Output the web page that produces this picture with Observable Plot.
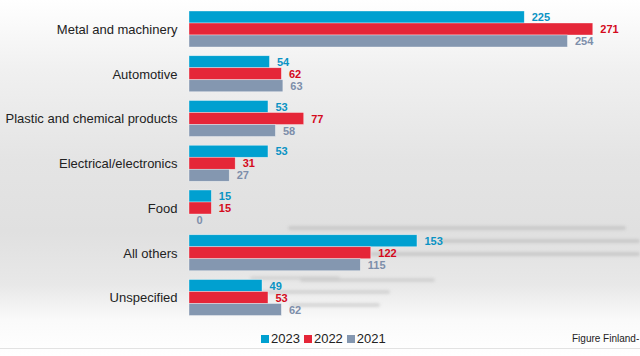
<!DOCTYPE html>
<html>
<head>
<meta charset="utf-8">
<script src="https://cdn.jsdelivr.net/npm/d3@7"></script>
<script src="https://cdn.jsdelivr.net/npm/@observablehq/plot@0.6"></script>
<style>
  html, body { margin: 0; padding: 0; }
  body {
    width: 640px; height: 356px; overflow: hidden; position: relative;
    font-family: "Liberation Sans", Arial, sans-serif;
    background: linear-gradient(to bottom, #ffffff 0%, #f0f0f0 20%, #e4e4e4 45%, #e0e0e0 65%, #e8e8e8 80%, #fafafa 90%, #ffffff 100%);
  }
  #chart { position: relative; z-index: 2; }
  #chart svg { display: block; }
  #chart svg g[aria-label^="fy-axis"] text, #chart svg g[aria-label^="fy-axis"] { font-size: 13px !important; fill: #222; }
  .deco { position: absolute; height: 4px; background: #c4c4c4; filter: blur(1.5px); border-radius: 2px; z-index: 1; opacity: 0.8; }
  #legend {
    position: absolute; top: 331px; left: 0; width: 640px; height: 18px;
    font-size: 13px; color: #222;
  }
  #legend .items { position: absolute; left: 261px; top: 0; white-space: nowrap; }
  #legend .item { display: inline-block; margin-right: 4px; }
  #legend .sw { display: inline-block; width: 8px; height: 8px; margin-right: 2px; vertical-align: 0px; }
  #caption { position: absolute; left: 572px; top: 2px; font-size: 10px; color: #222; white-space: nowrap; }
  #rule { position: absolute; top: 348px; left: 0; width: 640px; height: 1px; background: #e2e2e2; }
</style>
</head>
<body>
<div class="deco" style="top:226px;left:288px;width:338px"></div>
<div class="deco" style="top:239px;left:440px;width:200px"></div>
<div class="deco" style="top:252px;left:370px;width:270px"></div>
<div class="deco" style="top:276px;left:250px;width:90px;opacity:0.5"></div>
<div class="deco" style="top:278px;left:300px;width:135px;opacity:0.6"></div>
<div class="deco" style="top:290px;left:260px;width:130px;opacity:0.6"></div>
<div class="deco" style="top:303px;left:290px;width:90px;opacity:0.6"></div>
<div id="chart"></div>
<div id="legend"><div class="items"></div><div id="caption">Figure Finland-</div></div>
<div id="rule"></div>
<script>
const categories = ["Metal and machinery", "Automotive", "Plastic and chemical products", "Electrical/electronics", "Food", "All others", "Unspecified"];
const years = ["2023", "2022", "2021"];
const values2023 = [225, 54, 53, 53, 15, 153, 49];
const values2022 = [271, 62, 77, 31, 15, 122, 53];
const values2021 = [254, 63, 58, 27, 0, 115, 62];
const barColors = ["#00a0d0", "#e52638", "#8497b0"];
const labelColors = ["#0a93c4", "#d40a1c", "#7d8eaa"];

const series = [values2023, values2022, values2021];
const data = categories.flatMap((c, i) => years.map((y, j) => ({category: c, year: y, value: series[j][i]})));

const textMarks = years.map((y, j) => Plot.text(data.filter(d => d.year === y), {
  x: "value", y: "year", fy: "category",
  text: d => String(d.value), dx: 7, textAnchor: "start",
  fill: labelColors[j], fontWeight: "bold", fontSize: 11
}));

const chart = Plot.plot({
  width: 640, height: 321,
  marginLeft: 189, marginRight: 4, marginTop: 10, marginBottom: 4,
  style: {background: "transparent", fontFamily: "'Liberation Sans', Arial, sans-serif", fontSize: "13px", color: "#222"},
  x: {domain: [0, 300], axis: null},
  y: {domain: years, axis: null, paddingInner: 0, paddingOuter: 0},
  fy: {domain: categories, paddingInner: 0.14, paddingOuter: 0, round: false, label: null, axis: "left", tickSize: 0, tickPadding: 12},
  color: {domain: years, range: barColors},
  marks: [
    Plot.barX(data, {x: "value", y: "year", fy: "category", fill: "year", stroke: "#ffffff", strokeOpacity: 0.6, strokeWidth: 0.6}),
    ...textMarks
  ]
});
document.getElementById("chart").appendChild(chart);

const items = document.querySelector("#legend .items");
years.forEach((y, j) => {
  const s = document.createElement("span");
  s.className = "item";
  s.innerHTML = `<span class="sw" style="background:${barColors[j]}"></span>${y}`;
  items.appendChild(s);
});
</script>
</body>
</html>
